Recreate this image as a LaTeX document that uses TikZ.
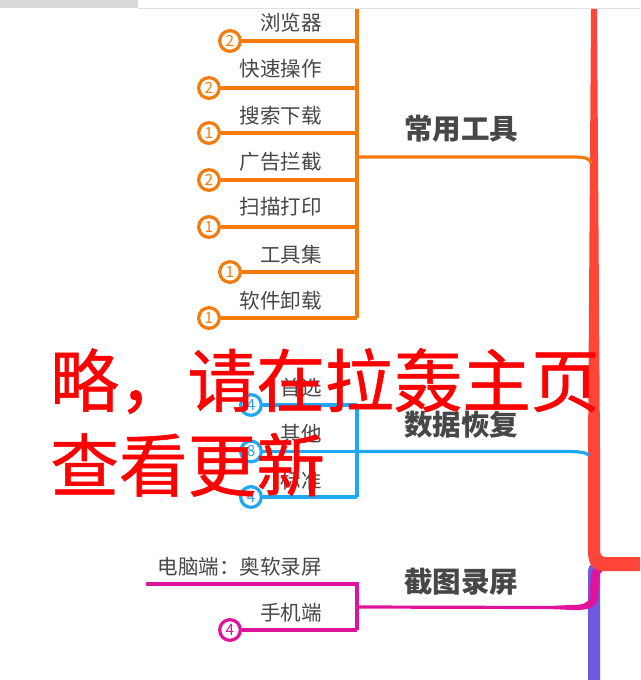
\documentclass[tikz,border=0pt]{standalone}
\usepackage{fontspec}
\setmainfont{Noto Sans CJK SC}
\newfontfamily\stampfont[FakeBold=0.8]{Noto Sans CJK SC}
\usetikzlibrary{calc}
\definecolor{orangec}{HTML}{F57C0C}
\definecolor{bluec}{HTML}{1EA7F2}
\definecolor{pinkc}{HTML}{E0149A}
\definecolor{redc}{HTML}{FF4538}
\definecolor{purplec}{HTML}{7058E0}
\definecolor{txt}{HTML}{474747}
\tikzset{
 x=0.75pt,y=-0.75pt,
 leaf/.style={anchor=base east,inner sep=0,text=txt,font=\fontsize{15.4pt}{18pt}\selectfont},
 topic/.style={anchor=base west,inner sep=0,text=txt,font=\fontsize{21.4pt}{24pt}\selectfont\bfseries},
 stamp/.style={anchor=base west,inner sep=0,text=red,font=\stampfont\fontsize{51.5pt}{56pt}\selectfont},
 badge/.style={circle,draw=#1,line width=2.4pt,fill=white,text=#1,minimum size=15.5pt,inner sep=0,font=\fontsize{11.5pt}{12pt}\selectfont},
 wire/.style={draw=#1,line width=2.4pt},
}
\begin{document}
\begin{tikzpicture}
\useasboundingbox (0,0) rectangle (640,680);
\fill[white] (0,0) rectangle (640,680);
% top bar
\fill[black!15] (0,0) rectangle (138,8);
\draw[black!12,line width=0.6pt] (138,8.5) -- (640,8.5);
% trunks
\fill[purplec] (588,680) -- (588,572) .. controls (588,567) and (590,564) .. (594,563) -- (600,563) -- (600,680) -- cycle;
\fill[pinkc] (540,606.4) -- (570,605) .. controls (582,605) and (588,604) .. (589.5,597)
  -- (591,576) .. controls (592,570) and (595,566) .. (602,565)
  -- (603,571) .. controls (600,572) and (599.5,575) .. (599.5,580)
  -- (598,597) .. controls (597,607) and (590,610.5) .. (572,610) -- (540,608.6) -- cycle;
\fill[redc] (591,9) -- (597,9) -- (600,450) -- (600,550) .. controls (600,555) and (602,557) .. (606,557)
  -- (640,557) -- (640,571) -- (604,571) .. controls (594,571) and (588,565) .. (588,552) -- (588,450) -- cycle;
% orange
\coordinate (ojoin) at (357,157);
\coordinate (otop) at (357,9);
\coordinate (obot) at (357,318);
\coordinate (otrunk) at (591,163);
\draw[wire=orangec] (otop) -- (obot);
\draw[wire=orangec] (ojoin) -- (572,157) .. controls (584,157) and (590,158) .. (otrunk);
\node[badge=orangec] (o1) at (230,41) {2};
\node[badge=orangec] (o2) at (209,88) {2};
\node[badge=orangec] (o3) at (209,133) {1};
\node[badge=orangec] (o4) at (209,180) {2};
\node[badge=orangec] (o5) at (209,227) {1};
\node[badge=orangec] (o6) at (230,272) {1};
\node[badge=orangec] (o7) at (209,318) {1};
\foreach \n/\y in {o1/41,o2/88,o3/133,o4/180,o5/227,o6/272,o7/318}
  \draw[wire=orangec] (\n) -- (357,\y);
\node[leaf] (l1) at (322,31) {浏览器};
\node[leaf] (l2) at (322,77) {快速操作};
\node[leaf] (l3) at (322,124) {搜索下载};
\node[leaf] (l4) at (322,170) {广告拦截};
\node[leaf] (l5) at (322,215) {扫描打印};
\node[leaf] (l6) at (322,263) {工具集};
\node[leaf] (l7) at (322,309) {软件卸载};
\node[topic] (t1) at (404,140) {常用工具};
% blue
\coordinate (bjoin) at (357,451.5);
\coordinate (btop) at (357,405);
\coordinate (bbot) at (357,497);
\coordinate (btrunk) at (589,455);
\draw[wire=bluec] (btop) -- (bbot);
\node[badge=bluec] (b1) at (251,405) {4};
\node[badge=bluec] (b2) at (251,451.5) {8};
\node[badge=bluec] (b3) at (251,497) {4};
\draw[wire=bluec] (b1) -- (btop);
\draw[wire=bluec] (b2) -- (bjoin);
\draw[wire=bluec] (b3) -- (bbot);
\draw[wire=bluec] (bjoin) -- (565,451.5) .. controls (578,451.5) and (585,452) .. (btrunk);
\node[leaf] (l8) at (322,395) {首选};
\node[leaf] (l9) at (322,441) {其他};
\node[leaf] (l10) at (322,488) {标准};
\node[topic] (t2) at (404,435) {数据恢复};
% pink
\coordinate (pjoin) at (357,607);
\coordinate (ptop) at (357,584);
\coordinate (pbot) at (357,630);
\coordinate (pfree) at (146,584);
\draw[wire=pinkc] (pfree) -- (ptop) -- (pbot);
\node[badge=pinkc] (p1) at (230,630) {4};
\draw[wire=pinkc] (p1) -- (pbot);
\draw[wire=pinkc] (pjoin) -- (545,607.5);
\node[leaf] (l11) at (322,574) {电脑端：奥软录屏};
\node[leaf] (l12) at (322,620) {手机端};
\node[topic] (t3) at (404,592) {截图录屏};
% stamp
\node[stamp] (s1) at (50,406.5) {略，请在拉轰主页};
\node[stamp] (s2) at (50,491) {查看更新};
\end{tikzpicture}
\end{document}
